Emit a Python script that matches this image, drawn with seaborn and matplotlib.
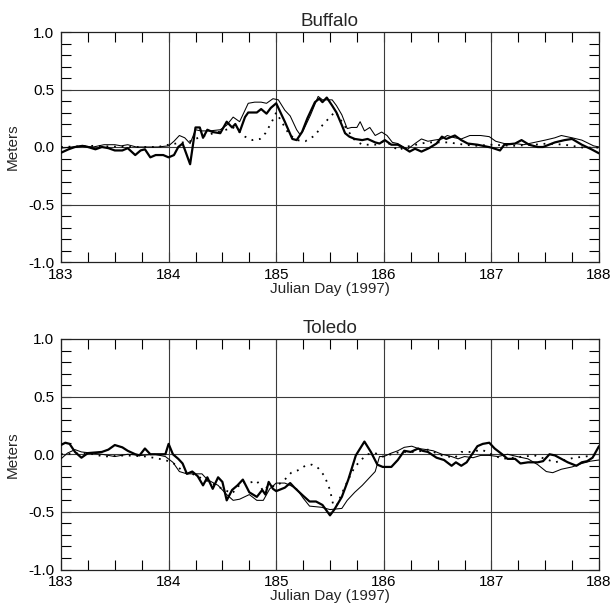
import numpy as np
import pandas as pd
import matplotlib
matplotlib.use("Agg")
import matplotlib.pyplot as plt
from matplotlib.ticker import MultipleLocator, FormatStrFormatter
import seaborn as sns

# ---------------- data ----------------
buf_obs_day = [183.0, 183.07, 183.13, 183.2, 183.25, 183.32, 183.38, 183.44, 183.5, 183.57, 183.62,
               183.69, 183.74, 183.78, 183.83, 183.88, 183.95, 184.0, 184.05, 184.09, 184.13, 184.2,
               184.25, 184.29, 184.32, 184.36, 184.41, 184.48, 184.54, 184.59, 184.62, 184.66, 184.71,
               184.74, 184.82, 184.86, 184.91, 184.95, 185.0, 185.08, 185.15, 185.19, 185.24, 185.29,
               185.36, 185.4, 185.43, 185.47, 185.52, 185.56, 185.61, 185.64, 185.68, 185.73, 185.8,
               185.85, 185.92, 185.96, 186.01, 186.07, 186.13, 186.19, 186.24, 186.29, 186.35, 186.42,
               186.49, 186.54, 186.58, 186.66, 186.72, 186.78, 186.87, 187.0, 187.08, 187.12, 187.22,
               187.28, 187.35, 187.43, 187.48, 187.59, 187.68, 187.75, 187.84, 187.93, 188.0]
buf_obs_val = [-0.05, -0.02, 0.0, 0.01, 0.0, -0.02, 0.0, -0.01, -0.03, -0.03, -0.01,
               -0.07, -0.03, -0.02, -0.09, -0.07, -0.07, -0.09, -0.07, 0.0, 0.03, -0.15,
               0.17, 0.17, 0.08, 0.15, 0.13, 0.12, 0.22, 0.17, 0.2, 0.13, 0.26,
               0.3, 0.3, 0.33, 0.29, 0.34, 0.38, 0.22, 0.07, 0.06, 0.13, 0.25,
               0.39, 0.42, 0.39, 0.43, 0.36, 0.3, 0.19, 0.12, 0.09, 0.07, 0.06,
               0.07, 0.04, 0.03, 0.06, 0.02, 0.02, -0.01, -0.04, -0.015, -0.04, -0.01,
               0.03, 0.09, 0.07, 0.1, 0.06, 0.03, 0.02, -0.005, -0.03, 0.02, 0.03,
               0.06, 0.02, 0.0, 0.0, 0.04, 0.06, 0.07, 0.02, -0.02, -0.055]

buf_m1_day = [183.0, 183.1, 183.2, 183.3, 183.4, 183.5, 183.56, 183.62, 183.7, 183.8, 183.9, 184.0,
              184.05, 184.1, 184.15, 184.2, 184.25, 184.3, 184.38, 184.48, 184.54, 184.6, 184.66,
              184.74, 184.8, 184.86, 184.91, 184.97, 185.02, 185.08, 185.13, 185.19, 185.22, 185.25,
              185.32, 185.39, 185.43, 185.52, 185.56, 185.61, 185.66, 185.7, 185.75, 185.78, 185.82,
              185.87, 185.92, 185.98, 186.03, 186.08, 186.13, 186.22, 186.29, 186.35, 186.41, 186.47,
              186.54, 186.59, 186.66, 186.72, 186.8, 186.9, 186.98, 187.04, 187.12, 187.22, 187.3,
              187.4, 187.5, 187.59, 187.65, 187.75, 187.84, 187.95, 188.0]
buf_m1_val = [-0.01, 0.0, 0.01, 0.0, 0.02, 0.02, 0.01, 0.02, 0.0, 0.0, 0.0, 0.01,
              0.05, 0.1, 0.08, 0.03, 0.15, 0.14, 0.14, 0.15, 0.19, 0.26, 0.22,
              0.38, 0.39, 0.39, 0.38, 0.42, 0.41, 0.32, 0.27, 0.15, 0.11, 0.14,
              0.28, 0.44, 0.41, 0.41, 0.36, 0.28, 0.16, 0.17, 0.17, 0.22, 0.14,
              0.17, 0.1, 0.13, 0.1, 0.04, 0.03, -0.02, 0.03, 0.07, 0.05, 0.06,
              0.07, 0.1, 0.08, 0.07, 0.1, 0.1, 0.09, 0.05, 0.03, 0.03, 0.02,
              0.04, 0.06, 0.08, 0.1, 0.08, 0.06, 0.01, 0.0]

buf_m2_day = [183.0, 183.3, 183.6, 183.9, 184.0, 184.2, 184.3, 184.5, 184.6, 184.66, 184.71, 184.78,
              184.85, 184.9, 184.96, 185.0, 185.05, 185.12, 185.19, 185.27, 185.36, 185.43, 185.52,
              185.55, 185.61, 185.66, 185.73, 185.8, 185.92, 186.0, 186.07, 186.13, 186.2, 186.3,
              186.4, 186.6, 186.75, 186.85, 187.0, 187.2, 187.4, 187.52, 187.68, 187.85, 188.0]
buf_m2_val = [0.0, 0.01, 0.0, 0.0, 0.02, 0.05, 0.09, 0.14, 0.17, 0.13, 0.09, 0.06,
              0.07, 0.12, 0.22, 0.3, 0.22, 0.11, 0.06, 0.05, 0.1, 0.19, 0.28,
              0.31, 0.22, 0.15, 0.06, 0.02, 0.02, 0.05, 0.02, -0.03, 0.0, 0.02,
              0.04, 0.04, 0.02, 0.01, 0.02, 0.01, 0.02, 0.03, 0.02, -0.005, -0.005]

tol_obs_day = [183.0, 183.04, 183.08, 183.13, 183.19, 183.25, 183.38, 183.44, 183.5, 183.57, 183.62,
               183.69, 183.73, 183.78, 183.83, 183.97, 184.0, 184.04, 184.09, 184.13, 184.17, 184.22,
               184.27, 184.32, 184.36, 184.41, 184.46, 184.5, 184.54, 184.59, 184.64, 184.69, 184.75,
               184.82, 184.87, 184.9, 184.93, 184.97, 185.0, 185.08, 185.13, 185.17, 185.25, 185.31,
               185.37, 185.43, 185.5, 185.54, 185.61, 185.67, 185.74, 185.82, 185.88, 185.94, 185.99,
               186.07, 186.13, 186.19, 186.25, 186.32, 186.36, 186.41, 186.49, 186.56, 186.63, 186.67,
               186.72, 186.77, 186.82, 186.87, 186.92, 186.98, 187.03, 187.1, 187.15, 187.22, 187.27,
               187.34, 187.43, 187.48, 187.54, 187.59, 187.65, 187.71, 187.79, 187.84, 187.89, 187.94,
               188.0]
tol_obs_val = [0.08, 0.1, 0.09, 0.02, -0.03, 0.01, 0.02, 0.04, 0.08, 0.06, 0.03,
               0.0, -0.01, 0.05, 0.0, 0.0, 0.09, 0.0, -0.04, -0.08, -0.17, -0.15,
               -0.19, -0.27, -0.2, -0.3, -0.2, -0.24, -0.4, -0.31, -0.27, -0.22, -0.33,
               -0.37, -0.31, -0.35, -0.24, -0.3, -0.32, -0.29, -0.25, -0.29, -0.36, -0.41,
               -0.41, -0.44, -0.53, -0.48, -0.37, -0.22, -0.01, 0.11, 0.02, -0.09, -0.11,
               -0.11, -0.05, 0.03, 0.02, 0.05, 0.03, 0.02, -0.03, -0.05, -0.1, -0.07,
               -0.1, -0.07, 0.0, 0.07, 0.09, 0.1, 0.05, 0.0, -0.04, -0.04, -0.08,
               -0.07, -0.07, -0.06, 0.0, -0.01, -0.04, -0.07, -0.1, -0.07, -0.06, -0.03,
               0.07]

tol_m1_day = [183.0, 183.06, 183.13, 183.19, 183.29, 183.38, 183.5, 183.62, 183.75, 183.87, 183.97,
              184.04, 184.1, 184.17, 184.24, 184.31, 184.36, 184.46, 184.54, 184.6, 184.66, 184.75,
              184.82, 184.88, 184.94, 185.0, 185.08, 185.13, 185.19, 185.25, 185.31, 185.42, 185.5,
              185.61, 185.66, 185.73, 185.8, 185.85, 185.92, 185.96, 186.0, 186.07, 186.13, 186.19,
              186.26, 186.32, 186.4, 186.46, 186.54, 186.63, 186.69, 186.75, 186.83, 186.9, 186.98,
              187.06, 187.15, 187.24, 187.34, 187.43, 187.51, 187.57, 187.65, 187.75, 187.84, 187.92,
              188.0]
tol_m1_val = [-0.04, 0.01, 0.04, 0.02, 0.01, 0.0, -0.02, 0.0, -0.01, 0.0, -0.02,
              -0.07, -0.15, -0.17, -0.17, -0.17, -0.22, -0.27, -0.35, -0.4, -0.39, -0.35,
              -0.4, -0.4, -0.3, -0.25, -0.25, -0.27, -0.3, -0.38, -0.45, -0.46, -0.48,
              -0.47, -0.4, -0.33, -0.27, -0.22, -0.15, -0.02, -0.02, 0.01, 0.03, 0.06,
              0.07, 0.05, 0.04, 0.03, 0.0, -0.02, -0.04, -0.02, -0.03, -0.01, -0.01,
              -0.02, 0.0, -0.02, -0.04, -0.09, -0.15, -0.16, -0.13, -0.11, -0.08, -0.06,
              -0.05]

tol_m2_day = [183.0, 183.25, 183.4, 183.6, 183.8, 183.97, 184.07, 184.13, 184.22, 184.31, 184.4,
              184.5, 184.59, 184.63, 184.68, 184.74, 184.82, 184.88, 184.93, 185.0, 185.08, 185.14,
              185.2, 185.27, 185.33, 185.39, 185.45, 185.5, 185.53, 185.56, 185.61, 185.67, 185.73,
              185.8, 185.85, 185.92, 185.99, 186.07, 186.15, 186.3, 186.41, 186.54, 186.66, 186.72,
              186.82, 186.91, 187.0, 187.1, 187.2, 187.3, 187.4, 187.5, 187.59, 187.68, 187.77,
              187.87, 187.95, 188.0]
tol_m2_val = [0.0, 0.01, -0.02, -0.01, -0.02, -0.05, -0.09, -0.15, -0.17, -0.21, -0.25,
              -0.3, -0.34, -0.3, -0.24, -0.25, -0.23, -0.32, -0.27, -0.28, -0.22, -0.16,
              -0.14, -0.1, -0.09, -0.12, -0.19, -0.31, -0.44, -0.45, -0.34, -0.22, -0.11,
              -0.04, 0.0, 0.01, -0.02, 0.0, 0.02, 0.02, 0.04, -0.01, -0.03, 0.02,
              0.02, 0.04, 0.0, -0.04, -0.03, -0.02, -0.01, -0.04, -0.07, -0.05, -0.03,
              -0.02, -0.01, 0.02]

titles = ["Buffalo", "Toledo"]
xlabel_text = "Julian Day (1997)"
ylabel_text = "Meters"
x_ticks = [183, 184, 185, 186, 187, 188]
y_ticks = [-1.0, -0.5, 0.0, 0.5, 1.0]

# ---------------- styling ----------------
sns.set_style("ticks")
plt.rcParams["font.family"] = ["Liberation Sans", "DejaVu Sans"]
plt.rcParams["axes.unicode_minus"] = False

fig = plt.figure(figsize=(6.13, 6.11), dpi=100)
W, H = 613.0, 611.0
left, right = 61 / W, 599 / W
ax_top = fig.add_axes([left, 1 - 262 / H, right - left, (262 - 32) / H])
ax_bot = fig.add_axes([left, 1 - 569.5 / H, right - left, (569.5 - 339) / H])

panels = [
    (ax_top, titles[0], (buf_obs_day, buf_obs_val), (buf_m1_day, buf_m1_val), (buf_m2_day, buf_m2_val)),
    (ax_bot, titles[1], (tol_obs_day, tol_obs_val), (tol_m1_day, tol_m1_val), (tol_m2_day, tol_m2_val)),
]

for ax, title, obs, m1, m2 in panels:
    ax.set_facecolor("white")
    for xv in x_ticks[1:-1]:
        ax.axvline(xv, color="#3a3a3a", lw=0.8, zorder=1)
    for yv in [-0.5, 0.0, 0.5]:
        ax.axhline(yv, color="#3a3a3a", lw=0.8, zorder=1)

    sns.lineplot(x=m2[0], y=m2[1], ax=ax, color="black", lw=1.3,
                 linestyle=(0, (1, 3.2)), zorder=3, estimator=None)
    sns.lineplot(x=m1[0], y=m1[1], ax=ax, color="black", lw=0.75, zorder=4, estimator=None)
    sns.lineplot(x=obs[0], y=obs[1], ax=ax, color="black", lw=1.6, zorder=5, estimator=None)

    ax.set_xlim(183, 188)
    ax.set_ylim(-1.0, 1.0)
    ax.set_xticks(x_ticks)
    ax.set_yticks(y_ticks)
    ax.yaxis.set_major_formatter(FormatStrFormatter("%.1f"))
    ax.xaxis.set_minor_locator(MultipleLocator(0.25))
    ax.yaxis.set_minor_locator(MultipleLocator(0.1))
    ax.tick_params(which="both", direction="in", top=True, right=True, color="black",
                   width=0.8, length=7, labelsize=11, labelcolor="black")
    ax.tick_params(axis="x", which="both", pad=4)
    ax.tick_params(axis="y", which="both", pad=5)
    for s in ax.spines.values():
        s.set_color("#222222")
        s.set_linewidth(0.9)
        s.set_visible(True)

    ax.set_title(title, fontsize=13.5, pad=4)
    ax.set_xlabel(xlabel_text, fontsize=11, labelpad=0)
    ax.set_ylabel(ylabel_text, fontsize=11, labelpad=6)

fig.savefig("out.png", dpi=100, facecolor="white")
